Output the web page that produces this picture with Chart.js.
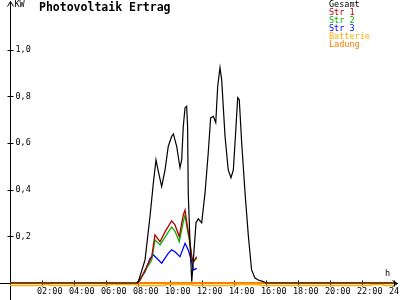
<!DOCTYPE html>
<html>
<head>
<meta charset="utf-8">
<script src="https://cdn.jsdelivr.net/npm/chart.js@4/dist/chart.umd.min.js"></script>
<style>
  html, body { margin: 0; padding: 0; background: #fff; }
  #wrap { width: 400px; height: 300px; }
</style>
</head>
<body>
<div id="wrap"><canvas id="pvChart" width="400" height="300"></canvas></div>
<script>
window.onload = inicializar;

// hours of the day and kW values
var gesamtHours = [0, 7.9, 8.02, 8.44, 8.75, 8.96, 9.125, 9.25, 9.48, 9.69, 9.89, 10.1, 10.21, 10.42, 10.625, 10.73, 10.83, 10.94, 11.04, 11.1, 11.14, 11.25, 11.36, 11.46, 11.625, 11.77, 11.98, 12.19, 12.39, 12.54, 12.71, 12.86, 12.98, 13.125, 13.23, 13.44, 13.64, 13.81, 13.96, 14.125, 14.23, 14.33, 14.48, 14.69, 14.9, 15.1, 15.31, 15.52, 15.83, 16, 24];
var gesamtKw = [0, 0, 0.006, 0.099, 0.285, 0.429, 0.528, 0.485, 0.413, 0.485, 0.585, 0.628, 0.639, 0.585, 0.494, 0.528, 0.671, 0.751, 0.757, 0.671, 0.386, 0.172, 0.006, 0.099, 0.258, 0.275, 0.258, 0.386, 0.558, 0.708, 0.714, 0.687, 0.842, 0.923, 0.871, 0.628, 0.485, 0.451, 0.485, 0.671, 0.794, 0.785, 0.601, 0.386, 0.199, 0.056, 0.021, 0.013, 0.006, 0, 0];

var strHours = [7.95, 8.0, 8.125, 8.54, 8.86, 9.06, 9.375, 9.69, 10.1, 10.31, 10.58, 10.83, 10.94, 11.04, 11.21, 11.36, 11.46, 11.67];
var str1Kw = [0, 0.004, 0.013, 0.07, 0.113, 0.206, 0.177, 0.219, 0.266, 0.249, 0.199, 0.292, 0.313, 0.263, 0.193, 0.113, 0.091, 0.113];
var str2Kw = [0, 0.004, 0.01, 0.064, 0.099, 0.185, 0.163, 0.197, 0.24, 0.223, 0.177, 0.262, 0.292, 0.245, 0.185, 0.112, 0.09, 0.107];

var str3Hours = [7.94, 8.44, 8.75, 8.96, 9.17, 9.48, 9.89, 10.1, 10.31, 10.625, 10.94, 11.14, 11.36, 11.46, 11.67];
var str3Kw = [0, 0.047, 0.106, 0.12, 0.106, 0.085, 0.127, 0.142, 0.134, 0.113, 0.17, 0.142, 0.091, 0.056, 0.063];

var batterieHours = [0, 2, 2.3, 2.6, 5, 6, 6.2, 7.8, 8, 9.6, 9.8, 11.3, 11.5, 13, 14, 14.2, 15.5, 15.7, 22.5, 22.7, 23.2, 23.4, 24];
var batterieKw = [-0.011, -0.011, -0.005, -0.011, -0.011, -0.011, -0.006, -0.006, -0.011, -0.011, -0.006, -0.006, -0.011, -0.011, -0.011, -0.006, -0.006, -0.011, -0.011, -0.006, -0.006, -0.011, -0.011];

var ladungHours = [0, 24];
var ladungKw = [0, 0];

var xTicks = [2, 4, 6, 8, 10, 12, 14, 16, 18, 20, 22, 24];
var xTickLabels = ["02:00", "04:00", "06:00", "08:00", "10:00", "12:00", "14:00", "16:00", "18:00", "20:00", "22:00", "24:00"];
var yTicks = [0.2, 0.4, 0.6, 0.8, 1.0];
var yTickLabels = ["0,2", "0,4", "0,6", "0,8", "1,0"];

var labelFont = "8.5px 'DejaVu Sans Mono'";

function toPoints(hours, values) {
  var pts = [];
  for (var i = 0; i < hours.length; i++) {
    pts.push({ x: hours[i], y: values[i] });
  }
  return pts;
}

function makeDataset(label, hours, values, color, width) {
  return {
    label: label,
    data: toPoints(hours, values),
    borderColor: color,
    backgroundColor: color,
    borderWidth: width,
    pointRadius: 0,
    tension: 0,
    fill: false,
    clip: 10
  };
}

// axes, ticks, title and the coloured legend are drawn here
var decorPlugin = {
  id: "decor",
  beforeDatasetsDraw: function (chart) {
    var ctx = chart.ctx, xs = chart.scales.x, ys = chart.scales.y;
    var x0 = Math.round(xs.getPixelForValue(0)) + 0.5;
    var y0 = Math.round(ys.getPixelForValue(0)) + 0.5;
    var xEnd = 397.5, yTop = 1.5;
    ctx.save();
    ctx.strokeStyle = "#000";
    ctx.lineWidth = 1;
    ctx.beginPath();
    ctx.moveTo(0, y0); ctx.lineTo(xEnd, y0);
    ctx.moveTo(xEnd - 5, y0 - 3); ctx.lineTo(xEnd, y0); ctx.lineTo(xEnd - 5, y0 + 3);
    ctx.moveTo(x0, 300); ctx.lineTo(x0, yTop);
    ctx.moveTo(x0 - 3, yTop + 5); ctx.lineTo(x0, yTop); ctx.lineTo(x0 + 3, yTop + 5);
    for (var i = 0; i < xTicks.length; i++) {
      var px = Math.round(xs.getPixelForValue(xTicks[i])) + 0.5;
      ctx.moveTo(px, y0 - 3); ctx.lineTo(px, y0 + 3);
    }
    for (var j = 0; j < yTicks.length; j++) {
      var py = Math.round(ys.getPixelForValue(yTicks[j])) + 0.5;
      ctx.moveTo(x0 - 3, py); ctx.lineTo(x0 + 3, py);
    }
    ctx.stroke();

    ctx.fillStyle = "#000";
    ctx.font = labelFont;
    ctx.textBaseline = "middle";
    ctx.textAlign = "left";
    for (var k = 0; k < xTicks.length; k++) {
      ctx.fillText(xTickLabels[k], xs.getPixelForValue(xTicks[k]) - 5, y0 + 8);
    }
    for (var m = 0; m < yTicks.length; m++) {
      ctx.fillText(yTickLabels[m], x0 + 5, ys.getPixelForValue(yTicks[m]));
    }
    ctx.fillText("KW", x0 + 4, 5);
    ctx.fillText("h", 385, y0 - 10);
    ctx.restore();
  },
  afterDraw: function (chart) {
    var ctx = chart.ctx;
    ctx.save();
    ctx.fillStyle = "#000";
    ctx.font = "bold 11.5px 'DejaVu Sans Mono'";
    ctx.textBaseline = "middle";
    ctx.textAlign = "left";
    ctx.fillText("Photovoltaik Ertrag", 39, 8);
    ctx.font = labelFont;
    var sets = chart.data.datasets;
    for (var i = 0; i < sets.length; i++) {
      ctx.fillStyle = sets[i].borderColor;
      ctx.fillText(sets[i].label, 329, 5 + i * 7.9);
    }
    ctx.restore();
  }
};

function inicializar() {
  var datasets = [
    makeDataset("Gesamt", gesamtHours, gesamtKw, "#000000", 1.2),
    makeDataset("Str 1", strHours, str1Kw, "#b40000", 1.3),
    makeDataset("Str 2", strHours, str2Kw, "#00b400", 1.3),
    makeDataset("Str 3", str3Hours, str3Kw, "#0000ff", 1.3),
    makeDataset("Batterie", batterieHours, batterieKw, "#ffb000", 1.6),
    makeDataset("Ladung", ladungHours, ladungKw, "#ff7a00", 2)
  ];

  new Chart(document.getElementById("pvChart"), {
    type: "line",
    data: { datasets: datasets },
    options: {
      responsive: false,
      animation: false,
      events: [],
      layout: { padding: { left: 10, right: 2.8, top: 3, bottom: 17 } },
      scales: {
        x: { type: "linear", min: 0, max: 24.2, display: false },
        y: { type: "linear", min: 0, max: 1.2, display: false }
      },
      plugins: {
        legend: { display: false },
        title: { display: false },
        tooltip: { enabled: false }
      }
    },
    plugins: [decorPlugin]
  });
}
</script>
</body>
</html>
